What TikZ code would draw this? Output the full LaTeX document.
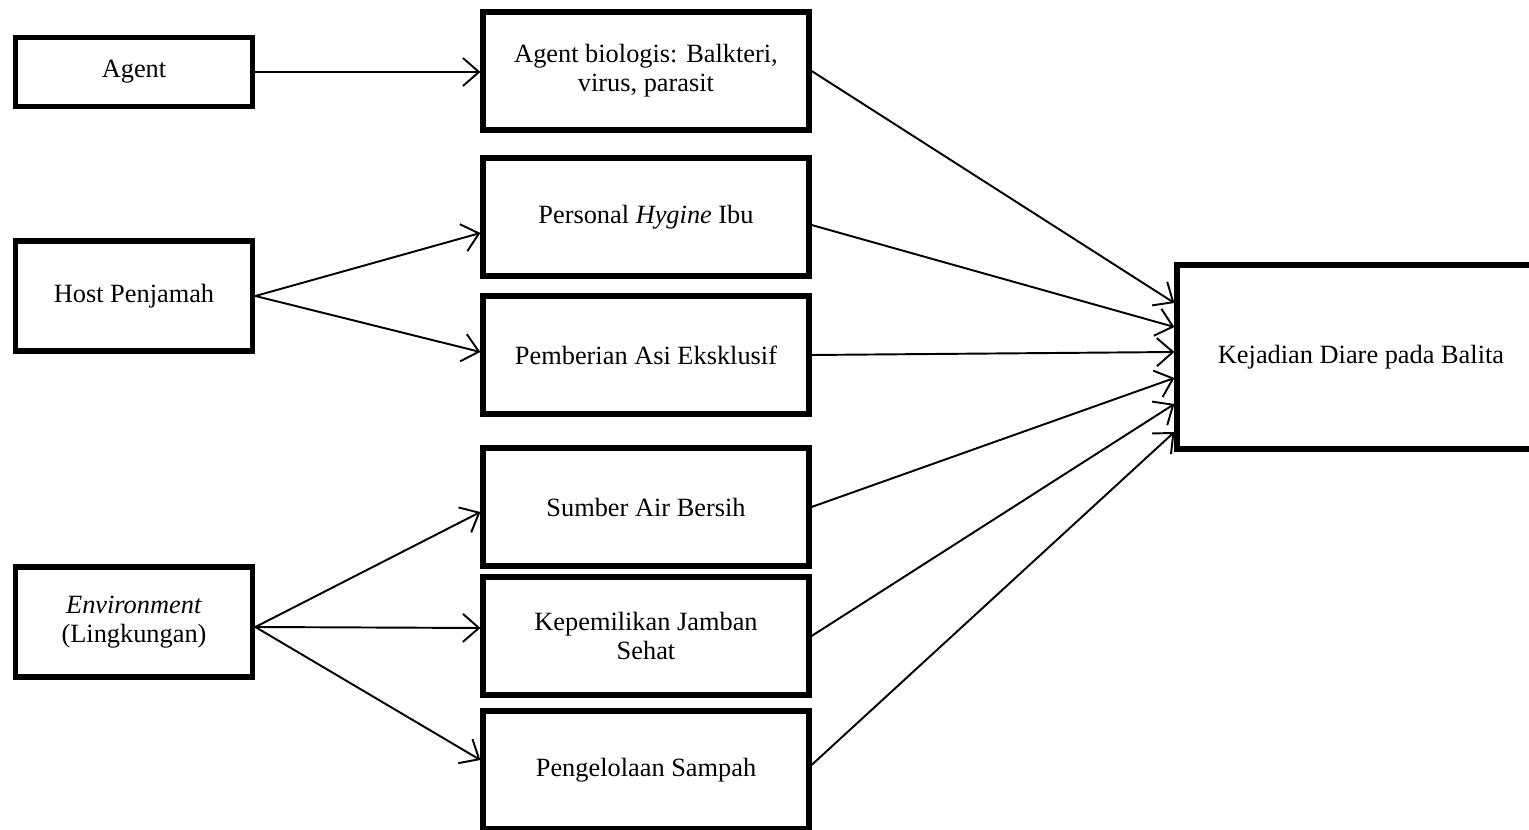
\documentclass[tikz,border=0pt]{standalone}
\usepackage{fontspec}
\setmainfont{Liberation Serif}
\usepackage{tikz}
\usetikzlibrary{arrows.meta,positioning}

\begin{document}
\begin{tikzpicture}[x=0.02cm,y=-0.02cm]
	\tikzstyle{every node} = [font=\fontsize{15}{16.5}\selectfont]
	\tikzstyle{leftbox} = [draw = black, line width=3pt, minimum width=4.75cm, align=center]
	\tikzstyle{midbox} = [draw = black, line width=3pt, minimum width=6.52cm, minimum height=2.36cm, align=center]
	\tikzstyle{arr} = [line width=1.1pt, -{Straight Barb[length=0.32cm,width=0.56cm,line width=1.1pt]}]
\useasboundingbox (0,0) rectangle (1529,830);
\node[leftbox, minimum height=1.38cm] (agent) at (134, 72) {Agent};
\node[leftbox, minimum height=2.2cm] (host) at (134, 296) {Host Penjamah};
\node[leftbox, minimum height=2.2cm] (env) at (134, 622) {\textit{Environment}\\(Lingkungan)};
\node[midbox] (bio) at (646, 71) {Agent biologis: Balkteri,\\virus, parasit};
\node[midbox] (hygine) at (646, 217) {Personal \textit{Hygine} Ibu};
\node[midbox] (asi) at (646, 355) {Pemberian Asi Eksklusif};
\node[midbox] (air) at (646, 507) {Sumber Air Bersih};
\node[midbox] (jamban) at (646, 636) {Kepemilikan Jamban\\Sehat};
\node[midbox] (sampah) at (646, 770) {Pengelolaan Sampah};
\node[draw = black, line width=3pt, minimum width=7.36cm, minimum height=3.68cm] (diare) at (1361, 357) {Kejadian Diare pada Balita};
	\draw[arr] (agent) -- (agent -| bio.west);
	\draw[arr] (host.east) -- ([yshift=-0.32cm]hygine.west);
	\draw[arr] (host.east) -- ([yshift=0.06cm]asi.west);
	\draw[arr] ([yshift=-0.1cm]env.east) -- ([yshift=-0.1cm]air.west);
	\draw[arr] ([yshift=-0.1cm]env.east) -- ([yshift=0.16cm]jamban.west);
	\draw[arr] ([yshift=-0.1cm]env.east) -- ([yshift=0.2cm]sampah.west);
	\draw[arr] (bio.east) -- ([yshift=1.08cm]diare.west);
	\draw[arr] ([yshift=-0.16cm]hygine.east) -- ([yshift=0.6cm]diare.west);
	\draw[arr] (asi.east) -- ([yshift=0.1cm]diare.west);
	\draw[arr] (air.east) -- ([yshift=-0.42cm]diare.west);
	\draw[arr] (jamban.east) -- ([yshift=-0.94cm]diare.west);
	\draw[arr] ([yshift=0.1cm]sampah.east) -- ([yshift=-1.5cm]diare.west);
\end{tikzpicture}
\end{document}
